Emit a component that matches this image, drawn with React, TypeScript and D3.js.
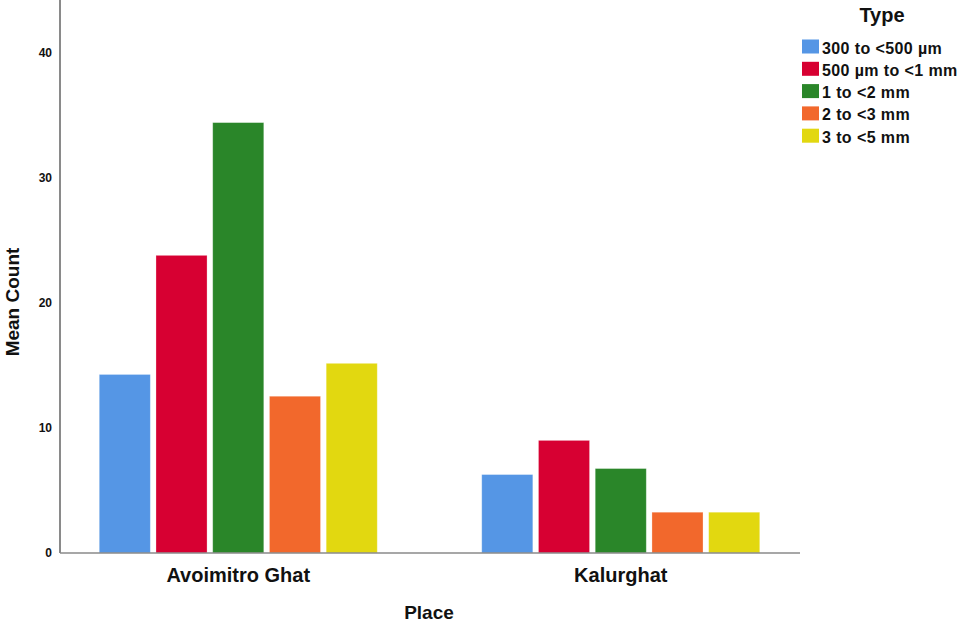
import React from "react";
import * as d3 from "d3";

const places = ["Avoimitro Ghat", "Kalurghat"];
const types = ["300 to <500 µm", "500 µm to <1 mm", "1 to <2 mm", "2 to <3 mm", "3 to <5 mm"];
const colors = ["#5596e5", "#d70032", "#2a8629", "#f2682c", "#e2d810"];
const avoimitroValues = [14.27, 23.79, 34.4, 12.53, 15.16];
const kalurghatValues = [6.27, 9.0, 6.75, 3.26, 3.26];
const yTicks = [0, 10, 20, 30, 40];

const seriesByPlace = [avoimitroValues, kalurghatValues];

export default function App() {
  const W = 961;
  const H = 623;
  const axisX = 60;
  const axisRight = 800;
  const y = d3.scaleLinear().domain([0, 44.2]).range([553, 0]);
  const x0 = d3.scaleBand<string>().domain(places).range([47, 812]).padding(0);
  const groupW = 278;
  const x1 = d3.scaleBand<string>().domain(types).range([-groupW / 2, groupW / 2]).paddingInner(0.1).paddingOuter(0);
  const font = "'Liberation Sans', Arial, sans-serif";

  return (
    <svg width={W} height={H} style={{ position: "absolute", left: 0, top: 0, display: "block", background: "#fff" }}>
      {/* bars */}
      {places.map((p, gi) => {
        const cx = (x0(p) ?? 0) + x0.bandwidth() / 2;
        return (
          <g key={p}>
            {types.map((t, i) => {
              const v = seriesByPlace[gi][i];
              const bx = cx + (x1(t) ?? 0);
              return (
                <rect
                  key={t}
                  x={bx}
                  y={y(v)}
                  width={x1.bandwidth()}
                  height={y(0) - y(v)}
                  fill={colors[i]}
                  stroke="rgba(255,255,255,0.35)"
                  strokeWidth={0.8}
                />
              );
            })}
          </g>
        );
      })}
      {/* axes */}
      <line x1={axisX} x2={axisX} y1={0} y2={y(0)} stroke="#8a8a8a" strokeWidth={2} />
      <line x1={axisX} x2={axisRight} y1={y(0)} y2={y(0)} stroke="#8a8a8a" strokeWidth={1.5} />
      {yTicks.map((t) => (
        <text
          key={t}
          x={52}
          y={y(t)}
          dy="0.35em"
          textAnchor="end"
          fontFamily={font}
          fontWeight="bold"
          fontSize={12}
          fill="#111"
        >
          {t}
        </text>
      ))}
      {places.map((p) => (
        <text
          key={p}
          x={(x0(p) ?? 0) + x0.bandwidth() / 2}
          y={582}
          textAnchor="middle"
          fontFamily={font}
          fontWeight="bold"
          fontSize={20}
          fill="#111"
        >
          {p}
        </text>
      ))}
      <text x={429} y={619} textAnchor="middle" fontFamily={font} fontWeight="bold" fontSize={19} fill="#111">
        Place
      </text>
      <text
        transform={`translate(19,${302}) rotate(-90)`}
        textAnchor="middle"
        fontFamily={font}
        fontWeight="bold"
        fontSize={19}
        fill="#111"
      >
        Mean Count
      </text>
      {/* legend */}
      <text x={882} y={22} textAnchor="middle" fontFamily={font} fontWeight="bold" fontSize={20} fill="#111">
        Type
      </text>
      {types.map((t, i) => (
        <g key={t} transform={`translate(802,${39.5 + i * 22.3})`}>
          <rect x={0} y={0} width={17} height={14} fill={colors[i]} />
          <text x={20} y={14} fontFamily={font} fontWeight="bold" fontSize={16} letterSpacing={0.4} fill="#111">
            {t}
          </text>
        </g>
      ))}
    </svg>
  );
}
